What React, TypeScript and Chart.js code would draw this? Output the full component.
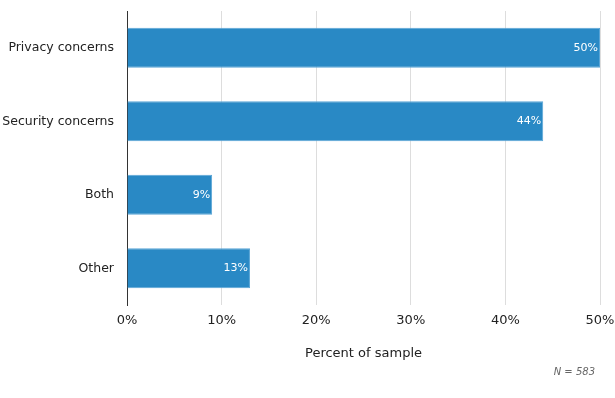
import React, { useEffect, useRef } from "react";
import { Chart, registerables } from "chart.js";

Chart.register(...registerables);

const categories = ["Privacy concerns", "Security concerns", "Both", "Other"];
const values = [50, 44, 9, 13];
const xTicks = [0, 10, 20, 30, 40, 50];
const axisTitle = "Percent of sample";
const noteText = "N = 583";

const FONT = "'DejaVu Sans', Verdana, sans-serif";

const labelPlugin = {
  id: "barLabels",
  afterDatasetsDraw(chart: any) {
    const ctx = chart.ctx;
    const meta = chart.getDatasetMeta(0);
    ctx.save();
    ctx.font = `11px ${FONT}`;
    ctx.fillStyle = "#ffffff";
    ctx.textAlign = "right";
    ctx.textBaseline = "middle";
    meta.data.forEach((bar: any, i: number) => {
      ctx.fillText(`${values[i]}%`, bar.x - 2, bar.y);
    });
    ctx.restore();
  },
  afterDraw(chart: any) {
    const ctx = chart.ctx;
    ctx.save();
    ctx.font = `italic 10px ${FONT}`;
    ctx.fillStyle = "#666";
    ctx.textAlign = "right";
    ctx.textBaseline = "middle";
    ctx.fillText(noteText, 595, 372);
    ctx.restore();
  },
};

export default function App() {
  const ref = useRef<HTMLCanvasElement>(null);
  useEffect(() => {
    document.body.style.margin = "0";
    const chart = new Chart(ref.current!, {
      type: "bar",
      data: {
        labels: categories,
        datasets: [
          {
            data: values,
            backgroundColor: "#2989c5",
            borderColor: "#5aa5d6",
            borderWidth: 1,
            barPercentage: 0.542,
            categoryPercentage: 1,
          },
        ],
      },
      options: {
        indexAxis: "y",
        responsive: false,
        animation: false,
        layout: { padding: { top: 11, right: 15, left: 0, bottom: 0 } },
        plugins: { legend: { display: false }, tooltip: { enabled: false } },
        scales: {
          x: {
            min: 0,
            max: 50,
            afterBuildTicks: (scale: any) => {
              scale.ticks = xTicks.map((v) => ({ value: v }));
            },
            afterFit: (scale: any) => {
              scale.height = 93;
              scale.paddingLeft = 0;
              scale.paddingRight = 0;
            },
            ticks: {
              font: { family: FONT, size: 13 },
              color: "#222",
              padding: 8,
              callback: (v: any) => `${v}%`,
            },
            grid: { color: "#dddddd", drawTicks: false, lineWidth: 1 },
            border: { display: false },
            title: {
              display: true,
              text: axisTitle,
              font: { family: FONT, size: 13 },
              color: "#222",
              padding: { top: 0, bottom: 37 },
            },
          },
          y: {
            afterFit: (scale: any) => {
              scale.width = 127;
              scale.paddingTop = 0;
              scale.paddingBottom = 0;
            },
            ticks: {
              font: { family: FONT, size: 12.5 },
              color: "#222",
              padding: 13,
            },
            grid: { display: false, drawTicks: false },
            border: { display: true, color: "#333", width: 1 },
          },
        },
      },
      plugins: [labelPlugin],
    });
    return () => chart.destroy();
  }, []);
  return (
    <div style={{ width: 615, height: 398 }}>
      <canvas ref={ref} width={615} height={398} />
    </div>
  );
}
